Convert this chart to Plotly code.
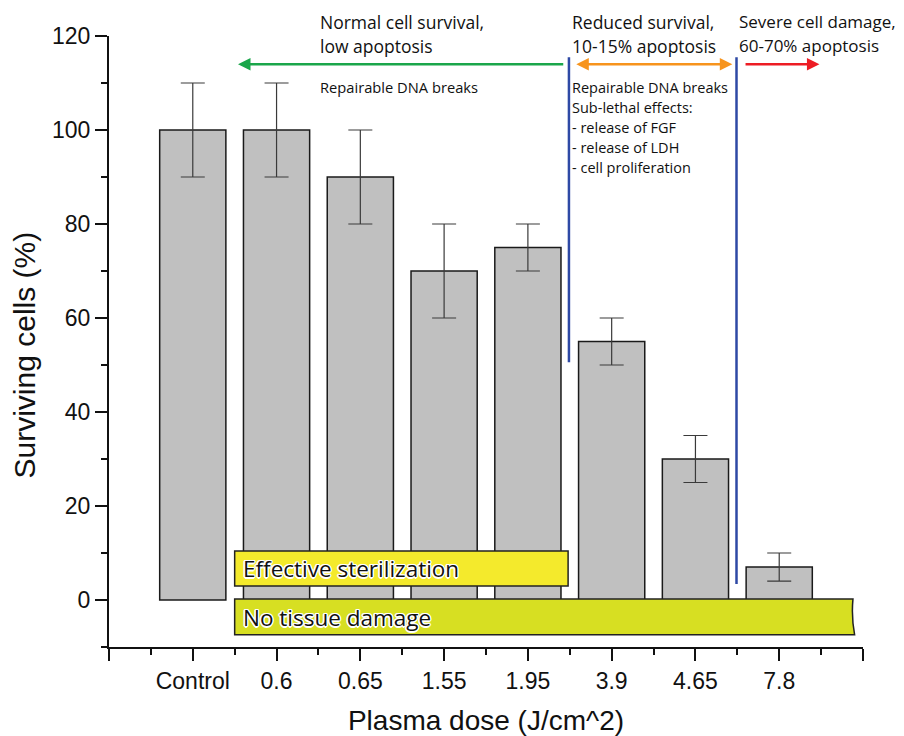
import plotly.graph_objects as go

categories = ["Control", "0.6", "0.65", "1.55", "1.95", "3.9", "4.65", "7.8"]
survival = [100, 100, 90, 70, 75, 55, 30, 7]
errors = [10, 10, 10, 10, 5, 5, 5, 3]
y_ticks = [0, 20, 40, 60, 80, 100, 120]

xpos = list(range(1, len(categories) + 1))

fig = go.Figure()
fig.add_trace(go.Bar(
    x=xpos, y=survival, width=0.79,
    marker=dict(color="#c0c0c0", line=dict(color="#1a1a1a", width=1.5)),
    error_y=dict(type="data", array=errors, color="#3a3a3a", thickness=1.2, width=12),
    showlegend=False,
))

FONT = "Open Sans"
AX_FONT = "Liberation Sans, Arial"
shapes = []
annos = []

# yellow boxes
shapes.append(dict(type="rect", xref="x", yref="y", x0=1.5, x1=5.48, y0=3.0, y1=10.4,
                   fillcolor="#f4ea2c", line=dict(color="#222", width=1.5), layer="above"))
shapes.append(dict(type="path", xref="x", yref="y",
                   path="M 1.5,-7.4 L 8.9,-7.4 Q 8.86,-3.6 8.88,0.2 L 1.5,0.2 Z",
                   fillcolor="#d7df22", line=dict(color="#222", width=1.5), layer="above"))
box_shadow = ("-1px -1px 0 #fff, 1px -1px 0 #fff, -1px 1px 0 #fff, 1px 1px 0 #fff, "
              "0 -1.5px 0 #fff, 0 1.5px 0 #fff, -1.5px 0 0 #fff, 1.5px 0 0 #fff")
annos.append(dict(x=1.57, y=6.7, xref="x", yref="y", text="Effective sterilization", showarrow=False,
                  xanchor="left", yanchor="middle",
                  font=dict(family=FONT, size=22.5, color="#111", shadow=box_shadow)))
annos.append(dict(x=1.57, y=-3.7, xref="x", yref="y", text="No tissue damage", showarrow=False,
                  xanchor="left", yanchor="middle",
                  font=dict(family=FONT, size=22.5, color="#111", shadow=box_shadow)))

# blue separators
shapes.append(dict(type="line", xref="x", yref="y", x0=5.49, x1=5.49, y0=50.6, y1=115.5,
                   line=dict(color="#2e49a5", width=2.5)))
shapes.append(dict(type="line", xref="x", yref="y", x0=7.49, x1=7.49, y0=3.4, y1=115.5,
                   line=dict(color="#2e49a5", width=2.5)))

# arrows
def arrow(x_from, x_to, y, color):
    return dict(x=x_to, y=y, ax=x_from, ay=y, xref="x", yref="y", axref="x", ayref="y",
                text="", showarrow=True, arrowhead=2, arrowsize=1, arrowwidth=2.5, arrowcolor=color)

annos.append(arrow(5.44, 1.54, 114.0, "#1aa64a"))
a = arrow(5.56, 7.44, 114.0, "#f7941d")
a["startarrowhead"] = 2
a["arrowside"] = "end+start"
annos.append(a)
annos.append(arrow(7.58, 8.48, 114.0, "#ed1c24"))

def txt(x, y, s, size=17.5, yref="y"):
    return dict(x=x, y=y, xref="x", yref=yref, text=s, showarrow=False, xanchor="left",
                yanchor="middle", font=dict(family=FONT, size=size, color="#111"))

annos += [
    txt(2.5, 1.023, "Normal cell survival,", yref="paper"),
    txt(2.5, 0.984, "low apoptosis", yref="paper"),
    txt(5.5, 1.023, "Reduced survival,", yref="paper"),
    txt(5.5, 0.984, "10-15% apoptosis", yref="paper"),
    txt(7.49, 1.023, "Severe cell damage,", 17, yref="paper"),
    txt(7.49, 0.984, "60-70% apoptosis", 17, yref="paper"),
    txt(2.5, 109.1, "Repairable DNA breaks", 14.7),
]
right_lines = ["Repairable DNA breaks", "Sub-lethal effects:", "- release of FGF",
               "- release of LDH", "- cell proliferation"]
for i, s in enumerate(right_lines):
    annos.append(txt(5.5, 109.1 - i * 4.25, s, 14.5))

# y-axis title placed as a rotated annotation
annos.append(dict(x=-0.112, y=0.478, xref="paper", yref="paper", text="Surviving cells (%)",
                  showarrow=False, textangle=-90, xanchor="center", yanchor="middle",
                  font=dict(family=AX_FONT, size=30, color="#111")))

fig.update_layout(
    width=904, height=736,
    margin=dict(l=109, r=41, t=36, b=89),
    paper_bgcolor="white", plot_bgcolor="white",
    shapes=shapes, annotations=annos,
    font=dict(family=AX_FONT, color="#111"),
    xaxis=dict(
        range=[0, 9], tickmode="array", tickvals=list(range(0, 10)),
        ticktext=[""] + categories + [""], automargin=False,
        showline=True, linecolor="#111", linewidth=2, ticks="outside", ticklen=12, tickwidth=2,
        tickcolor="#111", showgrid=False, zeroline=False,
        tickfont=dict(size=23, family=AX_FONT),
        minor=dict(tickmode="array", tickvals=[i + 0.5 for i in range(9)], ticks="outside",
                   ticklen=6, tickwidth=2, tickcolor="#111", showgrid=False),
        title=dict(text="Plasma dose (J/cm^2)", font=dict(size=28, family=AX_FONT), standoff=18),
    ),
    yaxis=dict(
        range=[-10, 120], tickmode="array", tickvals=y_ticks, automargin=False,
        showline=True, linecolor="#111", linewidth=2, ticks="outside", ticklen=12, tickwidth=2,
        tickcolor="#111", showgrid=False, zeroline=False,
        tickfont=dict(size=23, family=AX_FONT),
        minor=dict(dtick=10, tick0=10, ticks="outside", ticklen=6, tickwidth=2, tickcolor="#111",
                   showgrid=False),
    ),
)

fig.write_html("out.html")
